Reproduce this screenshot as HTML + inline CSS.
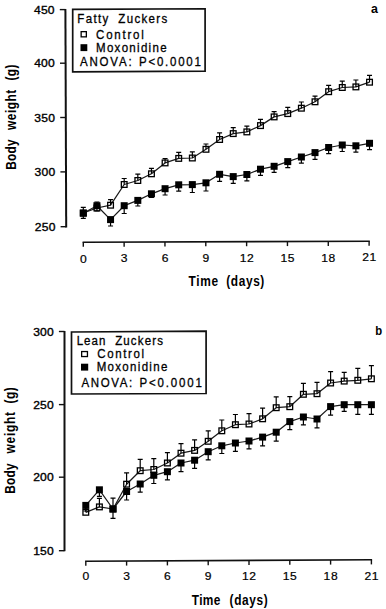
<!DOCTYPE html>
<html><head><meta charset="utf-8"><style>
html,body{margin:0;padding:0;background:#fff;width:386px;height:609px;overflow:hidden}
svg{display:block}
text{font-family:"Liberation Sans",sans-serif;fill:#000}
.tl{font-size:11px;stroke:#000;stroke-width:0.35px;letter-spacing:0.2px}
.xl{font-size:11px;stroke:#000;stroke-width:0.2px;letter-spacing:0.5px}
.lg{font-size:12.5px;stroke:#000;stroke-width:0.3px}
.ax{font-size:14px;font-weight:bold}
.pl{font-size:13px;font-weight:bold}
</style></head><body>
<svg width="386" height="609" viewBox="0 0 386 609">
<line x1="65.4" y1="9.0" x2="66.2" y2="227.4" stroke="#111" stroke-width="2"/>
<line x1="59.80" y1="9.6" x2="65.40" y2="9.6" stroke="#111" stroke-width="1.4"/>
<text transform="translate(54.80,13.6) scale(1.1,1)" class="tl" text-anchor="end">450</text>
<line x1="60.00" y1="63.2" x2="65.60" y2="63.2" stroke="#111" stroke-width="1.4"/>
<text transform="translate(55.00,67.2) scale(1.1,1)" class="tl" text-anchor="end">400</text>
<line x1="60.20" y1="117.5" x2="65.80" y2="117.5" stroke="#111" stroke-width="1.4"/>
<text transform="translate(55.20,121.5) scale(1.1,1)" class="tl" text-anchor="end">350</text>
<line x1="60.40" y1="171.9" x2="66.00" y2="171.9" stroke="#111" stroke-width="1.4"/>
<text transform="translate(55.40,175.9) scale(1.1,1)" class="tl" text-anchor="end">300</text>
<line x1="60.60" y1="226.7" x2="66.20" y2="226.7" stroke="#111" stroke-width="1.4"/>
<text transform="translate(55.60,230.7) scale(1.1,1)" class="tl" text-anchor="end">250</text>
<line x1="82.60" y1="242.20" x2="369.81" y2="241.20" stroke="#111" stroke-width="1.6"/>
<line x1="83.30" y1="242.20" x2="83.30" y2="246.80" stroke="#111" stroke-width="1.4"/>
<text transform="translate(83.60,262.60) scale(1.1,1)" class="xl" text-anchor="middle">0</text>
<line x1="124.13" y1="242.06" x2="124.13" y2="246.66" stroke="#111" stroke-width="1.4"/>
<text transform="translate(124.43,262.43) scale(1.1,1)" class="xl" text-anchor="middle">3</text>
<line x1="164.96" y1="241.91" x2="164.96" y2="246.51" stroke="#111" stroke-width="1.4"/>
<text transform="translate(165.26,262.26) scale(1.1,1)" class="xl" text-anchor="middle">6</text>
<line x1="205.79" y1="241.77" x2="205.79" y2="246.37" stroke="#111" stroke-width="1.4"/>
<text transform="translate(206.09,262.09) scale(1.1,1)" class="xl" text-anchor="middle">9</text>
<line x1="246.62" y1="241.63" x2="246.62" y2="246.23" stroke="#111" stroke-width="1.4"/>
<text transform="translate(246.92,261.91) scale(1.1,1)" class="xl" text-anchor="middle">12</text>
<line x1="287.45" y1="241.49" x2="287.45" y2="246.09" stroke="#111" stroke-width="1.4"/>
<text transform="translate(287.75,261.74) scale(1.1,1)" class="xl" text-anchor="middle">15</text>
<line x1="328.28" y1="241.34" x2="328.28" y2="245.94" stroke="#111" stroke-width="1.4"/>
<text transform="translate(328.58,261.57) scale(1.1,1)" class="xl" text-anchor="middle">18</text>
<line x1="369.11" y1="241.20" x2="369.11" y2="245.80" stroke="#111" stroke-width="1.4"/>
<text transform="translate(369.41,261.40) scale(1.1,1)" class="xl" text-anchor="middle">21</text>
<polyline points="83.30,213.00 96.93,208.00 110.56,205.20 124.19,184.50 137.82,180.50 151.45,173.80 165.08,162.90 178.71,158.40 192.34,158.00 205.97,149.30 219.60,139.50 233.23,133.60 246.86,131.90 260.49,125.60 274.12,116.90 287.75,113.60 301.38,108.20 315.01,101.80 328.64,91.70 342.27,87.50 355.90,86.90 369.53,82.20" fill="none" stroke="#1a1a1a" stroke-width="1.25" stroke-linejoin="round"/>
<rect x="80.45" y="210.15" width="5.7" height="5.7" fill="none" stroke="#000" stroke-width="1.3"/>
<path d="M83.30,213.00V207.40M80.80,207.40H85.80" stroke="#000" stroke-width="1.2" fill="none"/>
<rect x="94.08" y="205.15" width="5.7" height="5.7" fill="none" stroke="#000" stroke-width="1.3"/>
<path d="M96.93,208.00V202.00M94.43,202.00H99.43" stroke="#000" stroke-width="1.2" fill="none"/>
<rect x="107.71" y="202.35" width="5.7" height="5.7" fill="none" stroke="#000" stroke-width="1.3"/>
<path d="M110.56,205.20V199.70M108.06,199.70H113.06" stroke="#000" stroke-width="1.2" fill="none"/>
<rect x="121.34" y="181.65" width="5.7" height="5.7" fill="none" stroke="#000" stroke-width="1.3"/>
<path d="M124.19,184.50V178.50M121.69,178.50H126.69" stroke="#000" stroke-width="1.2" fill="none"/>
<rect x="134.97" y="177.65" width="5.7" height="5.7" fill="none" stroke="#000" stroke-width="1.3"/>
<path d="M137.82,180.50V174.10M135.32,174.10H140.32" stroke="#000" stroke-width="1.2" fill="none"/>
<rect x="148.60" y="170.95" width="5.7" height="5.7" fill="none" stroke="#000" stroke-width="1.3"/>
<path d="M151.45,173.80V168.30M148.95,168.30H153.95" stroke="#000" stroke-width="1.2" fill="none"/>
<rect x="162.23" y="160.05" width="5.7" height="5.7" fill="none" stroke="#000" stroke-width="1.3"/>
<path d="M165.08,162.90V158.50M162.58,158.50H167.58" stroke="#000" stroke-width="1.2" fill="none"/>
<rect x="175.86" y="155.55" width="5.7" height="5.7" fill="none" stroke="#000" stroke-width="1.3"/>
<path d="M178.71,158.40V152.30M176.21,152.30H181.21" stroke="#000" stroke-width="1.2" fill="none"/>
<rect x="189.49" y="155.15" width="5.7" height="5.7" fill="none" stroke="#000" stroke-width="1.3"/>
<path d="M192.34,158.00V151.80M189.84,151.80H194.84" stroke="#000" stroke-width="1.2" fill="none"/>
<rect x="203.12" y="146.45" width="5.7" height="5.7" fill="none" stroke="#000" stroke-width="1.3"/>
<path d="M205.97,149.30V144.00M203.47,144.00H208.47" stroke="#000" stroke-width="1.2" fill="none"/>
<rect x="216.75" y="136.65" width="5.7" height="5.7" fill="none" stroke="#000" stroke-width="1.3"/>
<path d="M219.60,139.50V132.80M217.10,132.80H222.10" stroke="#000" stroke-width="1.2" fill="none"/>
<rect x="230.38" y="130.75" width="5.7" height="5.7" fill="none" stroke="#000" stroke-width="1.3"/>
<path d="M233.23,133.60V127.70M230.73,127.70H235.73" stroke="#000" stroke-width="1.2" fill="none"/>
<rect x="244.01" y="129.05" width="5.7" height="5.7" fill="none" stroke="#000" stroke-width="1.3"/>
<path d="M246.86,131.90V126.10M244.36,126.10H249.36" stroke="#000" stroke-width="1.2" fill="none"/>
<rect x="257.64" y="122.75" width="5.7" height="5.7" fill="none" stroke="#000" stroke-width="1.3"/>
<path d="M260.49,125.60V119.40M257.99,119.40H262.99" stroke="#000" stroke-width="1.2" fill="none"/>
<rect x="271.27" y="114.05" width="5.7" height="5.7" fill="none" stroke="#000" stroke-width="1.3"/>
<path d="M274.12,116.90V111.70M271.62,111.70H276.62" stroke="#000" stroke-width="1.2" fill="none"/>
<rect x="284.90" y="110.75" width="5.7" height="5.7" fill="none" stroke="#000" stroke-width="1.3"/>
<path d="M287.75,113.60V107.40M285.25,107.40H290.25" stroke="#000" stroke-width="1.2" fill="none"/>
<rect x="298.53" y="105.35" width="5.7" height="5.7" fill="none" stroke="#000" stroke-width="1.3"/>
<path d="M301.38,108.20V102.00M298.88,102.00H303.88" stroke="#000" stroke-width="1.2" fill="none"/>
<rect x="312.16" y="98.95" width="5.7" height="5.7" fill="none" stroke="#000" stroke-width="1.3"/>
<path d="M315.01,101.80V96.10M312.51,96.10H317.51" stroke="#000" stroke-width="1.2" fill="none"/>
<rect x="325.79" y="88.85" width="5.7" height="5.7" fill="none" stroke="#000" stroke-width="1.3"/>
<path d="M328.64,91.70V85.40M326.14,85.40H331.14" stroke="#000" stroke-width="1.2" fill="none"/>
<rect x="339.42" y="84.65" width="5.7" height="5.7" fill="none" stroke="#000" stroke-width="1.3"/>
<path d="M342.27,87.50V81.20M339.77,81.20H344.77" stroke="#000" stroke-width="1.2" fill="none"/>
<rect x="353.05" y="84.05" width="5.7" height="5.7" fill="none" stroke="#000" stroke-width="1.3"/>
<path d="M355.90,86.90V80.00M353.40,80.00H358.40" stroke="#000" stroke-width="1.2" fill="none"/>
<rect x="366.68" y="79.35" width="5.7" height="5.7" fill="none" stroke="#000" stroke-width="1.3"/>
<path d="M369.53,82.20V75.40M367.03,75.40H372.03" stroke="#000" stroke-width="1.2" fill="none"/>
<polyline points="83.30,213.20 96.93,205.70 110.56,219.60 124.19,205.70 137.82,200.40 151.45,193.80 165.08,188.70 178.71,184.80 192.34,184.60 205.97,182.80 219.60,174.30 233.23,176.60 246.86,174.50 260.49,169.20 274.12,166.30 287.75,161.60 301.38,157.00 315.01,152.60 328.64,147.50 342.27,145.00 355.90,145.80 369.53,143.30" fill="none" stroke="#1a1a1a" stroke-width="1.25" stroke-linejoin="round"/>
<rect x="79.80" y="209.70" width="7.0" height="7.0" fill="#000"/>
<path d="M83.30,213.20V218.30M80.80,218.30H85.80" stroke="#000" stroke-width="1.2" fill="none"/>
<rect x="93.43" y="202.20" width="7.0" height="7.0" fill="#000"/>
<path d="M96.93,205.70V211.00M94.43,211.00H99.43" stroke="#000" stroke-width="1.2" fill="none"/>
<rect x="107.06" y="216.10" width="7.0" height="7.0" fill="#000"/>
<path d="M110.56,219.60V226.00M108.06,226.00H113.06" stroke="#000" stroke-width="1.2" fill="none"/>
<rect x="120.69" y="202.20" width="7.0" height="7.0" fill="#000"/>
<path d="M124.19,205.70V213.50M121.69,213.50H126.69" stroke="#000" stroke-width="1.2" fill="none"/>
<rect x="134.32" y="196.90" width="7.0" height="7.0" fill="#000"/>
<path d="M137.82,200.40V206.00M135.32,206.00H140.32" stroke="#000" stroke-width="1.2" fill="none"/>
<rect x="147.95" y="190.30" width="7.0" height="7.0" fill="#000"/>
<path d="M151.45,193.80V197.50M148.95,197.50H153.95" stroke="#000" stroke-width="1.2" fill="none"/>
<rect x="161.58" y="185.20" width="7.0" height="7.0" fill="#000"/>
<path d="M165.08,188.70V195.00M162.58,195.00H167.58" stroke="#000" stroke-width="1.2" fill="none"/>
<rect x="175.21" y="181.30" width="7.0" height="7.0" fill="#000"/>
<path d="M178.71,184.80V191.20M176.21,191.20H181.21" stroke="#000" stroke-width="1.2" fill="none"/>
<rect x="188.84" y="181.10" width="7.0" height="7.0" fill="#000"/>
<path d="M192.34,184.60V192.50M189.84,192.50H194.84" stroke="#000" stroke-width="1.2" fill="none"/>
<rect x="202.47" y="179.30" width="7.0" height="7.0" fill="#000"/>
<path d="M205.97,182.80V191.00M203.47,191.00H208.47" stroke="#000" stroke-width="1.2" fill="none"/>
<rect x="216.10" y="170.80" width="7.0" height="7.0" fill="#000"/>
<path d="M219.60,174.30V181.30M217.10,181.30H222.10" stroke="#000" stroke-width="1.2" fill="none"/>
<rect x="229.73" y="173.10" width="7.0" height="7.0" fill="#000"/>
<path d="M233.23,176.60V183.40M230.73,183.40H235.73" stroke="#000" stroke-width="1.2" fill="none"/>
<rect x="243.36" y="171.00" width="7.0" height="7.0" fill="#000"/>
<path d="M246.86,174.50V180.80M244.36,180.80H249.36" stroke="#000" stroke-width="1.2" fill="none"/>
<rect x="256.99" y="165.70" width="7.0" height="7.0" fill="#000"/>
<path d="M260.49,169.20V175.40M257.99,175.40H262.99" stroke="#000" stroke-width="1.2" fill="none"/>
<rect x="270.62" y="162.80" width="7.0" height="7.0" fill="#000"/>
<path d="M274.12,166.30V172.30M271.62,172.30H276.62" stroke="#000" stroke-width="1.2" fill="none"/>
<rect x="284.25" y="158.10" width="7.0" height="7.0" fill="#000"/>
<path d="M287.75,161.60V167.70M285.25,167.70H290.25" stroke="#000" stroke-width="1.2" fill="none"/>
<rect x="297.88" y="153.50" width="7.0" height="7.0" fill="#000"/>
<path d="M301.38,157.00V163.20M298.88,163.20H303.88" stroke="#000" stroke-width="1.2" fill="none"/>
<rect x="311.51" y="149.10" width="7.0" height="7.0" fill="#000"/>
<path d="M315.01,152.60V159.40M312.51,159.40H317.51" stroke="#000" stroke-width="1.2" fill="none"/>
<rect x="325.14" y="144.00" width="7.0" height="7.0" fill="#000"/>
<path d="M328.64,147.50V153.60M326.14,153.60H331.14" stroke="#000" stroke-width="1.2" fill="none"/>
<rect x="338.77" y="141.50" width="7.0" height="7.0" fill="#000"/>
<path d="M342.27,145.00V151.50M339.77,151.50H344.77" stroke="#000" stroke-width="1.2" fill="none"/>
<rect x="352.40" y="142.30" width="7.0" height="7.0" fill="#000"/>
<path d="M355.90,145.80V152.10M353.40,152.10H358.40" stroke="#000" stroke-width="1.2" fill="none"/>
<rect x="366.03" y="139.80" width="7.0" height="7.0" fill="#000"/>
<path d="M369.53,143.30V149.60M367.03,149.60H372.03" stroke="#000" stroke-width="1.2" fill="none"/>
<path d="M72.7,9.3L205.1,8.75L205.1,71.2L72.7,71.9Z" fill="#fff" stroke="#111" stroke-width="1.7" stroke-linejoin="miter"/>
<text transform="translate(77.35,23.4) scale(0.92,1)" class="lg" textLength="33.70" lengthAdjust="spacing">Fatty</text>
<text transform="translate(118.35,23.4) scale(0.92,1)" class="lg" textLength="53.04" lengthAdjust="spacing">Zuckers</text>
<text transform="translate(96.10,39.0) scale(0.92,1)" class="lg" textLength="51.79" lengthAdjust="spacing">Control</text>
<text transform="translate(96.05,52.0) scale(0.92,1)" class="lg" textLength="76.63" lengthAdjust="spacing">Moxonidine</text>
<text transform="translate(79.90,66.0) scale(0.92,1)" class="lg" textLength="56.30" lengthAdjust="spacing">ANOVA:</text>
<text transform="translate(139.10,66.0) scale(0.92,1)" class="lg" textLength="67.12" lengthAdjust="spacing">P&lt;0.0001</text>
<rect x="81.15" y="31.65" width="5.20" height="5.20" fill="#fff" stroke="#000" stroke-width="1.3"/>
<rect x="80.5" y="44.2" width="6.80" height="6.90" fill="#000"/>
<text x="370.9" y="12.6" class="pl" textLength="6.9" lengthAdjust="spacingAndGlyphs">a</text>
<text transform="translate(188.55,285.7) scale(0.85,1)" class="ax" textLength="34.65" lengthAdjust="spacing">Time</text>
<text transform="translate(226.30,285.7) scale(0.85,1)" class="ax" textLength="44.76" lengthAdjust="spacing">(days)</text>
<text transform="translate(15.5,169.70) rotate(-90) scale(0.85,1)" class="ax" textLength="35.59" lengthAdjust="spacing">Body</text>
<text transform="translate(15.5,129.90) rotate(-90) scale(0.85,1)" class="ax" textLength="47.12" lengthAdjust="spacing">weight</text>
<text transform="translate(15.5,80.45) rotate(-90) scale(0.85,1)" class="ax" textLength="18.71" lengthAdjust="spacing">(g)</text>
<line x1="64.5" y1="331" x2="64.5" y2="551.2" stroke="#111" stroke-width="2"/>
<line x1="58.90" y1="331.5" x2="64.50" y2="331.5" stroke="#111" stroke-width="1.4"/>
<text transform="translate(54.00,335.5) scale(1.1,1)" class="tl" text-anchor="end">300</text>
<line x1="58.90" y1="404.6" x2="64.50" y2="404.6" stroke="#111" stroke-width="1.4"/>
<text transform="translate(54.00,408.6) scale(1.1,1)" class="tl" text-anchor="end">250</text>
<line x1="58.90" y1="477.2" x2="64.50" y2="477.2" stroke="#111" stroke-width="1.4"/>
<text transform="translate(54.00,481.2) scale(1.1,1)" class="tl" text-anchor="end">200</text>
<line x1="58.90" y1="550.7" x2="64.50" y2="550.7" stroke="#111" stroke-width="1.4"/>
<text transform="translate(54.00,554.7) scale(1.1,1)" class="tl" text-anchor="end">150</text>
<line x1="85.10" y1="561.20" x2="372.10" y2="559.80" stroke="#111" stroke-width="1.6"/>
<line x1="85.80" y1="561.20" x2="85.80" y2="565.80" stroke="#111" stroke-width="1.4"/>
<text transform="translate(86.10,580.30) scale(1.1,1)" class="xl" text-anchor="middle">0</text>
<line x1="126.60" y1="561.00" x2="126.60" y2="565.60" stroke="#111" stroke-width="1.4"/>
<text transform="translate(126.90,580.30) scale(1.1,1)" class="xl" text-anchor="middle">3</text>
<line x1="167.40" y1="560.80" x2="167.40" y2="565.40" stroke="#111" stroke-width="1.4"/>
<text transform="translate(167.70,580.30) scale(1.1,1)" class="xl" text-anchor="middle">6</text>
<line x1="208.20" y1="560.60" x2="208.20" y2="565.20" stroke="#111" stroke-width="1.4"/>
<text transform="translate(208.50,580.30) scale(1.1,1)" class="xl" text-anchor="middle">9</text>
<line x1="249.00" y1="560.40" x2="249.00" y2="565.00" stroke="#111" stroke-width="1.4"/>
<text transform="translate(249.30,580.30) scale(1.1,1)" class="xl" text-anchor="middle">12</text>
<line x1="289.80" y1="560.20" x2="289.80" y2="564.80" stroke="#111" stroke-width="1.4"/>
<text transform="translate(290.10,580.30) scale(1.1,1)" class="xl" text-anchor="middle">15</text>
<line x1="330.60" y1="560.00" x2="330.60" y2="564.60" stroke="#111" stroke-width="1.4"/>
<text transform="translate(330.90,580.30) scale(1.1,1)" class="xl" text-anchor="middle">18</text>
<line x1="371.40" y1="559.80" x2="371.40" y2="564.40" stroke="#111" stroke-width="1.4"/>
<text transform="translate(371.70,580.30) scale(1.1,1)" class="xl" text-anchor="middle">21</text>
<polyline points="85.80,512.30 99.40,506.90 113.00,509.00 126.60,484.20 140.20,470.70 153.80,469.50 167.40,463.00 181.00,453.20 194.60,450.40 208.20,441.30 221.80,430.80 235.40,424.70 249.00,424.00 262.60,418.80 276.20,407.70 289.80,406.70 303.40,394.30 317.00,393.70 330.60,383.00 344.20,381.10 357.80,380.30 371.40,378.80" fill="none" stroke="#1a1a1a" stroke-width="1.25" stroke-linejoin="round"/>
<rect x="82.95" y="509.45" width="5.7" height="5.7" fill="none" stroke="#000" stroke-width="1.3"/>
<path d="M85.80,512.30V506.00M83.30,506.00H88.30" stroke="#000" stroke-width="1.2" fill="none"/>
<rect x="96.55" y="504.05" width="5.7" height="5.7" fill="none" stroke="#000" stroke-width="1.3"/>
<path d="M99.40,506.90V498.30M96.90,498.30H101.90" stroke="#000" stroke-width="1.2" fill="none"/>
<rect x="110.15" y="506.15" width="5.7" height="5.7" fill="none" stroke="#000" stroke-width="1.3"/>
<path d="M113.00,509.00V498.10M110.50,498.10H115.50" stroke="#000" stroke-width="1.2" fill="none"/>
<rect x="123.75" y="481.35" width="5.7" height="5.7" fill="none" stroke="#000" stroke-width="1.3"/>
<path d="M126.60,484.20V472.80M124.10,472.80H129.10" stroke="#000" stroke-width="1.2" fill="none"/>
<rect x="137.35" y="467.85" width="5.7" height="5.7" fill="none" stroke="#000" stroke-width="1.3"/>
<path d="M140.20,470.70V459.40M137.70,459.40H142.70" stroke="#000" stroke-width="1.2" fill="none"/>
<rect x="150.95" y="466.65" width="5.7" height="5.7" fill="none" stroke="#000" stroke-width="1.3"/>
<path d="M153.80,469.50V458.70M151.30,458.70H156.30" stroke="#000" stroke-width="1.2" fill="none"/>
<rect x="164.55" y="460.15" width="5.7" height="5.7" fill="none" stroke="#000" stroke-width="1.3"/>
<path d="M167.40,463.00V452.70M164.90,452.70H169.90" stroke="#000" stroke-width="1.2" fill="none"/>
<rect x="178.15" y="450.35" width="5.7" height="5.7" fill="none" stroke="#000" stroke-width="1.3"/>
<path d="M181.00,453.20V443.60M178.50,443.60H183.50" stroke="#000" stroke-width="1.2" fill="none"/>
<rect x="191.75" y="447.55" width="5.7" height="5.7" fill="none" stroke="#000" stroke-width="1.3"/>
<path d="M194.60,450.40V439.90M192.10,439.90H197.10" stroke="#000" stroke-width="1.2" fill="none"/>
<rect x="205.35" y="438.45" width="5.7" height="5.7" fill="none" stroke="#000" stroke-width="1.3"/>
<path d="M208.20,441.30V430.90M205.70,430.90H210.70" stroke="#000" stroke-width="1.2" fill="none"/>
<rect x="218.95" y="427.95" width="5.7" height="5.7" fill="none" stroke="#000" stroke-width="1.3"/>
<path d="M221.80,430.80V420.00M219.30,420.00H224.30" stroke="#000" stroke-width="1.2" fill="none"/>
<rect x="232.55" y="421.85" width="5.7" height="5.7" fill="none" stroke="#000" stroke-width="1.3"/>
<path d="M235.40,424.70V414.50M232.90,414.50H237.90" stroke="#000" stroke-width="1.2" fill="none"/>
<rect x="246.15" y="421.15" width="5.7" height="5.7" fill="none" stroke="#000" stroke-width="1.3"/>
<path d="M249.00,424.00V413.60M246.50,413.60H251.50" stroke="#000" stroke-width="1.2" fill="none"/>
<rect x="259.75" y="415.95" width="5.7" height="5.7" fill="none" stroke="#000" stroke-width="1.3"/>
<path d="M262.60,418.80V408.10M260.10,408.10H265.10" stroke="#000" stroke-width="1.2" fill="none"/>
<rect x="273.35" y="404.85" width="5.7" height="5.7" fill="none" stroke="#000" stroke-width="1.3"/>
<path d="M276.20,407.70V396.90M273.70,396.90H278.70" stroke="#000" stroke-width="1.2" fill="none"/>
<rect x="286.95" y="403.85" width="5.7" height="5.7" fill="none" stroke="#000" stroke-width="1.3"/>
<path d="M289.80,406.70V396.60M287.30,396.60H292.30" stroke="#000" stroke-width="1.2" fill="none"/>
<rect x="300.55" y="391.45" width="5.7" height="5.7" fill="none" stroke="#000" stroke-width="1.3"/>
<path d="M303.40,394.30V383.30M300.90,383.30H305.90" stroke="#000" stroke-width="1.2" fill="none"/>
<rect x="314.15" y="390.85" width="5.7" height="5.7" fill="none" stroke="#000" stroke-width="1.3"/>
<path d="M317.00,393.70V382.30M314.50,382.30H319.50" stroke="#000" stroke-width="1.2" fill="none"/>
<rect x="327.75" y="380.15" width="5.7" height="5.7" fill="none" stroke="#000" stroke-width="1.3"/>
<path d="M330.60,383.00V371.70M328.10,371.70H333.10" stroke="#000" stroke-width="1.2" fill="none"/>
<rect x="341.35" y="378.25" width="5.7" height="5.7" fill="none" stroke="#000" stroke-width="1.3"/>
<path d="M344.20,381.10V372.40M341.70,372.40H346.70" stroke="#000" stroke-width="1.2" fill="none"/>
<rect x="354.95" y="377.45" width="5.7" height="5.7" fill="none" stroke="#000" stroke-width="1.3"/>
<path d="M357.80,380.30V368.30M355.30,368.30H360.30" stroke="#000" stroke-width="1.2" fill="none"/>
<rect x="368.55" y="375.95" width="5.7" height="5.7" fill="none" stroke="#000" stroke-width="1.3"/>
<path d="M371.40,378.80V365.70M368.90,365.70H373.90" stroke="#000" stroke-width="1.2" fill="none"/>
<polyline points="85.80,505.40 99.40,489.80 113.00,509.00 126.60,491.50 140.20,484.00 153.80,475.30 167.40,471.70 181.00,463.00 194.60,460.20 208.20,451.70 221.80,445.80 235.40,443.00 249.00,441.00 262.60,437.10 276.20,432.20 289.80,421.60 303.40,417.00 317.00,419.00 330.60,406.60 344.20,404.70 357.80,404.70 371.40,404.70" fill="none" stroke="#1a1a1a" stroke-width="1.25" stroke-linejoin="round"/>
<rect x="82.30" y="501.90" width="7.0" height="7.0" fill="#000"/>
<path d="M85.80,505.40V511.00M83.30,511.00H88.30" stroke="#000" stroke-width="1.2" fill="none"/>
<rect x="95.90" y="486.30" width="7.0" height="7.0" fill="#000"/>
<path d="M99.40,489.80V496.30M96.90,496.30H101.90" stroke="#000" stroke-width="1.2" fill="none"/>
<rect x="109.50" y="505.50" width="7.0" height="7.0" fill="#000"/>
<path d="M113.00,509.00V518.30M110.50,518.30H115.50" stroke="#000" stroke-width="1.2" fill="none"/>
<rect x="123.10" y="488.00" width="7.0" height="7.0" fill="#000"/>
<path d="M126.60,491.50V500.00M124.10,500.00H129.10" stroke="#000" stroke-width="1.2" fill="none"/>
<rect x="136.70" y="480.50" width="7.0" height="7.0" fill="#000"/>
<path d="M140.20,484.00V492.20M137.70,492.20H142.70" stroke="#000" stroke-width="1.2" fill="none"/>
<rect x="150.30" y="471.80" width="7.0" height="7.0" fill="#000"/>
<path d="M153.80,475.30V483.50M151.30,483.50H156.30" stroke="#000" stroke-width="1.2" fill="none"/>
<rect x="163.90" y="468.20" width="7.0" height="7.0" fill="#000"/>
<path d="M167.40,471.70V479.90M164.90,479.90H169.90" stroke="#000" stroke-width="1.2" fill="none"/>
<rect x="177.50" y="459.50" width="7.0" height="7.0" fill="#000"/>
<path d="M181.00,463.00V471.70M178.50,471.70H183.50" stroke="#000" stroke-width="1.2" fill="none"/>
<rect x="191.10" y="456.70" width="7.0" height="7.0" fill="#000"/>
<path d="M194.60,460.20V468.40M192.10,468.40H197.10" stroke="#000" stroke-width="1.2" fill="none"/>
<rect x="204.70" y="448.20" width="7.0" height="7.0" fill="#000"/>
<path d="M208.20,451.70V459.90M205.70,459.90H210.70" stroke="#000" stroke-width="1.2" fill="none"/>
<rect x="218.30" y="442.30" width="7.0" height="7.0" fill="#000"/>
<path d="M221.80,445.80V453.50M219.30,453.50H224.30" stroke="#000" stroke-width="1.2" fill="none"/>
<rect x="231.90" y="439.50" width="7.0" height="7.0" fill="#000"/>
<path d="M235.40,443.00V451.30M232.90,451.30H237.90" stroke="#000" stroke-width="1.2" fill="none"/>
<rect x="245.50" y="437.50" width="7.0" height="7.0" fill="#000"/>
<path d="M249.00,441.00V448.90M246.50,448.90H251.50" stroke="#000" stroke-width="1.2" fill="none"/>
<rect x="259.10" y="433.60" width="7.0" height="7.0" fill="#000"/>
<path d="M262.60,437.10V445.90M260.10,445.90H265.10" stroke="#000" stroke-width="1.2" fill="none"/>
<rect x="272.70" y="428.70" width="7.0" height="7.0" fill="#000"/>
<path d="M276.20,432.20V441.10M273.70,441.10H278.70" stroke="#000" stroke-width="1.2" fill="none"/>
<rect x="286.30" y="418.10" width="7.0" height="7.0" fill="#000"/>
<path d="M289.80,421.60V429.60M287.30,429.60H292.30" stroke="#000" stroke-width="1.2" fill="none"/>
<rect x="299.90" y="413.50" width="7.0" height="7.0" fill="#000"/>
<path d="M303.40,417.00V424.80M300.90,424.80H305.90" stroke="#000" stroke-width="1.2" fill="none"/>
<rect x="313.50" y="415.50" width="7.0" height="7.0" fill="#000"/>
<path d="M317.00,419.00V427.90M314.50,427.90H319.50" stroke="#000" stroke-width="1.2" fill="none"/>
<rect x="327.10" y="403.10" width="7.0" height="7.0" fill="#000"/>
<path d="M330.60,406.60V415.20M328.10,415.20H333.10" stroke="#000" stroke-width="1.2" fill="none"/>
<rect x="340.70" y="401.20" width="7.0" height="7.0" fill="#000"/>
<path d="M344.20,404.70V411.30M341.70,411.30H346.70" stroke="#000" stroke-width="1.2" fill="none"/>
<rect x="354.30" y="401.20" width="7.0" height="7.0" fill="#000"/>
<path d="M357.80,404.70V414.40M355.30,414.40H360.30" stroke="#000" stroke-width="1.2" fill="none"/>
<rect x="367.90" y="401.20" width="7.0" height="7.0" fill="#000"/>
<path d="M371.40,404.70V414.40M368.90,414.40H373.90" stroke="#000" stroke-width="1.2" fill="none"/>
<path d="M71.5,332L206.1,331.1L206.1,393.5L71.5,394Z" fill="#fff" stroke="#111" stroke-width="1.7" stroke-linejoin="miter"/>
<text transform="translate(76.70,345.3) scale(0.92,1)" class="lg" textLength="31.14" lengthAdjust="spacing">Lean</text>
<text transform="translate(115.15,345.3) scale(0.92,1)" class="lg" textLength="51.90" lengthAdjust="spacing">Zuckers</text>
<text transform="translate(97.35,358.0) scale(0.92,1)" class="lg" textLength="50.87" lengthAdjust="spacing">Control</text>
<text transform="translate(96.70,371.4) scale(0.92,1)" class="lg" textLength="76.79" lengthAdjust="spacing">Moxonidine</text>
<text transform="translate(81.55,386.8) scale(0.92,1)" class="lg" textLength="55.11" lengthAdjust="spacing">ANOVA:</text>
<text transform="translate(139.55,386.8) scale(0.92,1)" class="lg" textLength="67.72" lengthAdjust="spacing">P&lt;0.0001</text>
<rect x="81.65" y="351.55" width="5.80" height="5.00" fill="#fff" stroke="#000" stroke-width="1.3"/>
<rect x="81.0" y="363.7" width="7.20" height="6.90" fill="#000"/>
<text x="375.3" y="334.9" class="pl" textLength="6.9" lengthAdjust="spacingAndGlyphs">b</text>
<text transform="translate(191.75,604.8) scale(0.85,1)" class="ax" textLength="33.71" lengthAdjust="spacing">Time</text>
<text transform="translate(229.55,604.8) scale(0.85,1)" class="ax" textLength="45.00" lengthAdjust="spacing">(days)</text>
<text transform="translate(15.3,493.70) rotate(-90) scale(0.85,1)" class="ax" textLength="35.59" lengthAdjust="spacing">Body</text>
<text transform="translate(15.3,453.45) rotate(-90) scale(0.85,1)" class="ax" textLength="48.76" lengthAdjust="spacing">weight</text>
<text transform="translate(15.3,403.55) rotate(-90) scale(0.85,1)" class="ax" textLength="19.00" lengthAdjust="spacing">(g)</text>
</svg>
</body></html>
